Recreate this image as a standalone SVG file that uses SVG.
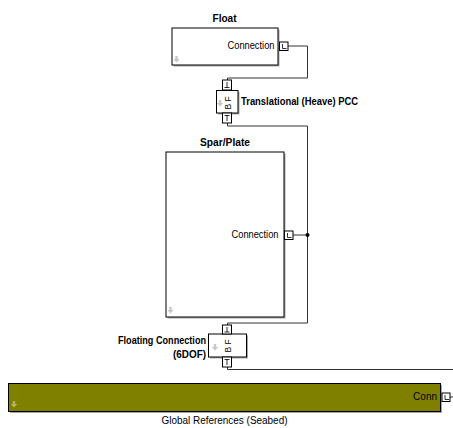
<svg xmlns="http://www.w3.org/2000/svg" width="453" height="428" viewBox="0 0 453 428">
<style>
.blk{fill:#fff;stroke:#000;stroke-width:1}
.shd{fill:#a8a8a8;stroke:none}
.port{fill:#fff;stroke:#000;stroke-width:1}
.pg{fill:none;stroke:#000;stroke-width:0.8}
.wire{fill:none;stroke:#333;stroke-width:1}
.t{font-family:"Liberation Sans",Arial,sans-serif;font-size:10px;fill:#000}
.b{font-weight:bold}
.ico{fill:#c8c8c8;stroke:none}
</style>
<defs>
<path id="arr" d="M-1.2,-4 h2.4 v3 h2 l-3.2,3.6 l-3.2,-3.6 h2 z"/>
</defs>
<rect width="453" height="428" fill="#fff"/>
<g id="connectors">
<path class="wire" d="M288,46 H307.5 V78 H227.5 V80"/>
<path class="wire" d="M227.5,123 V126 H307.5 V323 H227.5 V325"/>
<path class="wire" d="M293,235 H307.5"/>
<circle cx="307.5" cy="235" r="2" fill="#000"/>
<path class="wire" d="M227.5,367 V369.5 H453"/>
<path class="wire" d="M450,397 H453"/>
</g>
<g id="float">
<rect class="shd" x="173.5" y="29.5" width="106" height="37"/>
<rect class="blk" x="172" y="28" width="106" height="37"/>
<use href="#arr" x="176.5" y="60" class="ico"/>
<text class="t b" x="224.5" y="22" text-anchor="middle" textLength="24" lengthAdjust="spacingAndGlyphs">Float</text>
<text class="t" x="274.5" y="49" text-anchor="end" textLength="47" lengthAdjust="spacingAndGlyphs">Connection</text>
<rect class="port" x="279.5" y="42" width="8.5" height="8.5"/>
<path class="pg" d="M282.5,44 V48.5 H286.5"/>
</g>
<g id="pcc">
<rect class="shd" x="218" y="92" width="21.5" height="22.5"/>
<rect class="blk" x="216.5" y="90.5" width="21.5" height="22.5"/>
<rect class="port" x="222.5" y="80" width="9" height="10"/>
<path class="pg" d="M227,82 V87.5 M224.5,87.5 H229.5"/>
<rect class="port" x="222.5" y="113" width="9" height="10"/>
<path class="pg" d="M227,115.5 V121 M224.5,115.5 H229.5"/>
<text class="t" transform="translate(231,103) rotate(-90)" text-anchor="middle" style="font-size:8.5px">B F</text>
<use href="#arr" x="220" y="104" class="ico"/>
<text class="t b" x="241" y="105" textLength="117" lengthAdjust="spacingAndGlyphs">Translational (Heave) PCC</text>
</g>
<g id="spar">
<rect class="shd" x="167.5" y="153.5" width="118" height="165"/>
<rect class="blk" x="166" y="152" width="118" height="165"/>
<use href="#arr" x="170.5" y="311" class="ico"/>
<text class="t b" x="225" y="146" text-anchor="middle" textLength="50" lengthAdjust="spacingAndGlyphs">Spar/Plate</text>
<text class="t" x="278.5" y="238" text-anchor="end" textLength="47" lengthAdjust="spacingAndGlyphs">Connection</text>
<rect class="port" x="284.5" y="231" width="8.5" height="8.5"/>
<path class="pg" d="M287.5,233 V237.5 H291.5"/>
</g>
<g id="floating">
<rect class="shd" x="210" y="335.5" width="38" height="23"/>
<rect class="blk" x="208.5" y="334" width="38" height="23"/>
<rect class="port" x="222.5" y="325" width="9" height="9"/>
<path class="pg" d="M227,327 V332 M224.5,332 H229.5"/>
<rect class="port" x="222.5" y="357" width="9" height="10"/>
<path class="pg" d="M227,359.5 V365 M224.5,359.5 H229.5"/>
<text class="t" transform="translate(231,346) rotate(-90)" text-anchor="middle" style="font-size:8.5px">B F</text>
<use href="#arr" x="215" y="348" class="ico"/>
<text class="t b" x="206" y="344" text-anchor="end" textLength="88" lengthAdjust="spacingAndGlyphs">Floating Connection</text>
<text class="t b" x="206" y="358" text-anchor="end" textLength="33" lengthAdjust="spacingAndGlyphs">(6DOF)</text>
</g>
<g id="global">
<rect class="shd" x="10" y="385" width="432" height="28"/>
<rect x="8.5" y="383.5" width="432" height="28" fill="#808000" stroke="#000" stroke-width="1"/>
<use href="#arr" x="14" y="405" fill="#b5b56a"/>
<text class="t" x="437" y="400" text-anchor="end">Conn</text>
<rect class="port" x="442" y="393" width="8" height="8.5"/>
<path class="pg" d="M445,395 V399.5 H449"/>
<text class="t" x="224.5" y="424" text-anchor="middle" textLength="126" lengthAdjust="spacingAndGlyphs">Global References (Seabed)</text>
</g>
</svg>
